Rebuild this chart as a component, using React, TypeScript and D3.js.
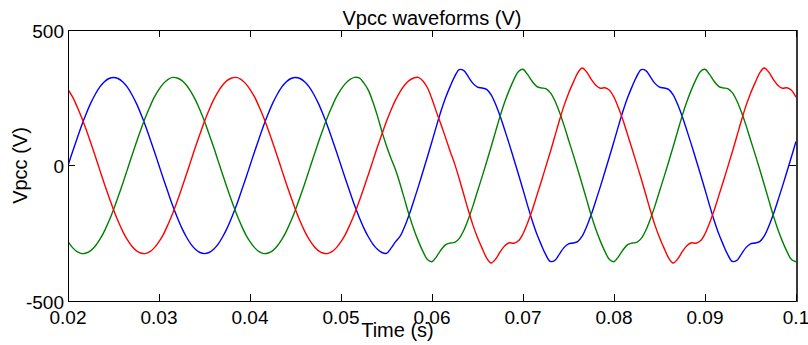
import React from 'react';
import * as d3 from 'd3';

// Sampling: first sample at 0.02 s, one sample every 0.5 ms (161 samples to 0.1 s)
const T_START = 0.02;
const T_STEP = 0.0005;

const blueVals = [
  0, 51, 100, 148, 191, 230, 263, 290, 309, 321, 325, 321, 309, 290, 263, 230, 191, 148, 100, 51,
  0, -51, -100, -148, -191, -230, -263, -290, -309, -321, -325, -321, -309, -290, -263, -230, -191, -148, -100, -51,
  0, 51, 100, 148, 191, 230, 263, 290, 309, 321, 325, 321, 309, 290, 263, 230, 191, 148, 100, 51,
  0, -51, -100, -148, -191, -230, -263, -290, -309, -321,
  -324, -305, -281,
  -261, -225, -181, -130, -78, -23, 32, 89, 147, 202, 251, 292, 329,
  354, 350, 327, 303, 289, 286, 281, 261, 225, 181, 130, 78, 23, -32, -89, -147, -202, -251, -292, -329,
  -354, -350, -327, -303, -289, -286, -281, -261, -225, -181, -130, -78, -23, 32, 89, 147, 202, 251, 292, 329,
  354, 350, 327, 303, 289, 286, 281, 261, 225, 181, 130, 78, 23, -32, -89, -147, -202, -251, -292, -329,
  -354, -350, -327, -303, -289, -286, -281, -261, -225, -181, -130, -78, -23, 32, 89,
];

const greenVals = [
  -281, -303, -318, -325, -323, -314, -297, -273, -242, -205, -163, -116, -68, -17, 34, 84, 132, 177, 217, 253,
  281, 303, 318, 325, 323, 314, 297, 273, 242, 205, 163, 116, 68, 17, -34, -84, -132, -177, -217, -253,
  -281, -303, -318, -325, -323, -314, -297, -273, -242, -205, -163, -116, -68, -17, 34, 84, 132, 177, 217, 253,
  281, 303, 318, 325, 323,
  305, 278, 235, 183, 125, 72, 26, -17,
  -69, -127, -184, -235, -279, -317, -347,
  -355, -336, -311, -292, -286, -284, -269, -239, -197, -149, -95, -42, 13, 69, 127, 184, 235, 279, 317, 347,
  355, 336, 311, 292, 286, 284, 269, 239, 197, 149, 95, 42, -13, -69, -127, -184, -235, -279, -317, -347,
  -355, -336, -311, -292, -286, -284, -269, -239, -197, -149, -95, -42, 13, 69, 127, 184, 235, 279, 317, 347,
  355, 336, 311, 292, 286, 284, 269, 239, 197, 149, 95, 42, -13, -69, -127, -184, -235, -279, -317, -347,
  -355,
];

const redVals = [
  281, 253, 217, 177, 132, 84, 34, -17, -68, -116, -163, -205, -242, -273, -297, -314, -323, -325, -318, -303,
  -281, -253, -217, -177, -132, -84, -34, 17, 68, 116, 163, 205, 242, 273, 297, 314, 323, 325, 318, 303,
  281, 253, 217, 177, 132, 84, 34, -17, -68, -116, -163, -205, -242, -273, -297, -314, -323, -325, -318, -303,
  -281, -253, -217, -177, -132, -84, -34, 17, 68, 116, 163, 205, 242, 273, 297, 314, 323,
  325, 312, 287, 245, 196, 150, 102, 52,
  5, -50, -108, -166, -220, -266, -305, -341, -360, -345, -318, -296, -285, -287, -278, -252, -212, -166, -113, -60,
  -5, 50, 108, 166, 220, 266, 305, 341, 360, 345, 318, 296, 285, 287, 278, 252, 212, 166, 113, 60,
  5,
  -50, -108, -166, -220, -266, -305, -341, -360, -345, -318, -296, -285, -287, -278, -252, -212, -166, -113, -60,
  -5, 50, 108, 166, 220, 266, 305, 341, 360, 345, 318, 296, 285, 287, 278, 252,
];

const seriesColors = ['#0000ff', '#008000', '#ff0000'];
const seriesList = [blueVals, greenVals, redVals];

const xTicks = [0.02, 0.03, 0.04, 0.05, 0.06, 0.07, 0.08, 0.09, 0.1];
const xTickLabels = ['0.02', '0.03', '0.04', '0.05', '0.06', '0.07', '0.08', '0.09', '0.1'];
const yTicks = [-500, 0, 500];
const yTickLabels = ['-500', '0', '500'];

const titleText = 'Vpcc waveforms (V)';
const xLabelText = 'Time (s)';
const yLabelText = 'Vpcc (V)';

export default function App() {
  const W = 808;
  const H = 345;
  const left = 68;
  const right = 796;
  const top = 30;
  const bottom = 301;
  const font = "'Liberation Sans', Arial, Helvetica, sans-serif";

  const x = d3.scaleLinear().domain([0.02, 0.1]).range([left, right]);
  const y = d3.scaleLinear().domain([-500, 500]).range([bottom, top]);

  const line = d3
    .line<number>()
    .x((_, i) => x(T_START + i * T_STEP))
    .y((d) => y(d))
    .curve(d3.curveCatmullRom.alpha(0.5));

  const tickLen = 7;

  return (
    <svg
      width={W}
      height={H}
      viewBox={`0 0 ${W} ${H}`}
      style={{ position: 'absolute', left: 0, top: 0, background: '#fff' }}
    >
      <defs>
        <clipPath id="plotClip">
          <rect x={left} y={top} width={right - left} height={bottom - top} />
        </clipPath>
      </defs>
      <rect x={0} y={0} width={W} height={H} fill="#fff" />

      <g clipPath="url(#plotClip)">
        {seriesList.map((vals, k) => (
          <path
            key={k}
            d={line(vals) || ''}
            fill="none"
            stroke={seriesColors[k]}
            strokeWidth={1.4}
            strokeLinejoin="round"
          />
        ))}
      </g>

      {/* frame */}
      <g shapeRendering="crispEdges">
        <line x1={left} y1={top} x2={right} y2={top} stroke="#000" strokeWidth={1} />
        <line x1={left} y1={bottom} x2={right} y2={bottom} stroke="#000" strokeWidth={1} />
        <line x1={left} y1={top} x2={left} y2={bottom} stroke="#000" strokeWidth={1} />
        <line x1={right + 1} y1={top} x2={right + 1} y2={bottom + 1} stroke="#3a3a3a" strokeWidth={2} />

        {xTicks.map((t, i) => (
          <g key={'xt' + i}>
            <line x1={x(t)} y1={bottom} x2={x(t)} y2={bottom - tickLen} stroke="#000" />
            <line x1={x(t)} y1={top} x2={x(t)} y2={top + tickLen} stroke="#000" />
          </g>
        ))}
        {yTicks.map((v, i) => (
          <g key={'yt' + i}>
            <line x1={left} y1={y(v)} x2={left + tickLen} y2={y(v)} stroke="#000" />
            <line x1={right} y1={y(v)} x2={right - tickLen} y2={y(v)} stroke="#000" />
          </g>
        ))}
      </g>

      {/* tick labels */}
      <g fontFamily={font} fontSize={19} fill="#000">
        {xTicks.map((t, i) => (
          <text key={'xl' + i} x={x(t)} y={324} textAnchor="middle">
            {xTickLabels[i]}
          </text>
        ))}
        {yTicks.map((v, i) => (
          <text key={'yl' + i} x={64} y={y(v) + 7.5} textAnchor="end">
            {yTickLabels[i]}
          </text>
        ))}
      </g>

      {/* title and axis labels */}
      <text x={(left + right) / 2} y={25} textAnchor="middle" fontFamily={font} fontSize={20} fill="#000">
        {titleText}
      </text>
      <text x={397.5} y={337} textAnchor="middle" fontFamily={font} fontSize={20} fill="#000">
        {xLabelText}
      </text>
      <text
        transform={`translate(27, ${(top + bottom) / 2}) rotate(-90)`}
        textAnchor="middle"
        fontFamily={font}
        fontSize={20}
        fill="#000"
      >
        {yLabelText}
      </text>
    </svg>
  );
}
